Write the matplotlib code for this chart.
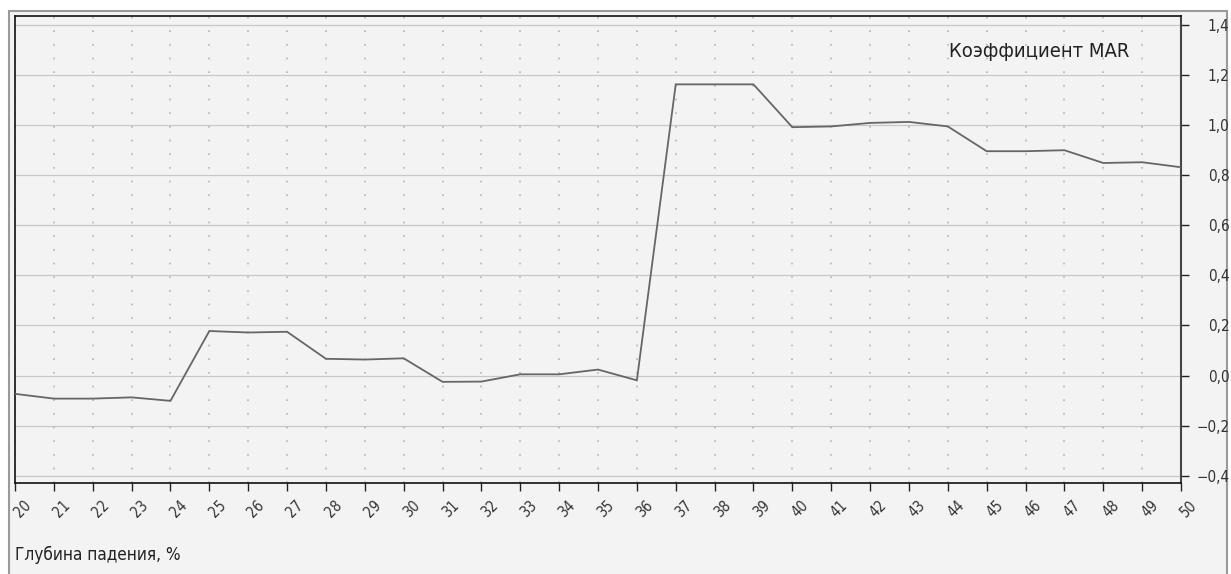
import matplotlib
matplotlib.use("Agg")
import matplotlib.pyplot as plt
from matplotlib.ticker import FuncFormatter
from matplotlib.patches import Rectangle
from matplotlib.transforms import ScaledTranslation

plt.rcParams['font.family'] = ['DejaVu Sans']
plt.rcParams['font.stretch'] = 'condensed'

depth = list(range(20, 51))
mar = [-0.073, -0.092, -0.092, -0.087, -0.101, 0.178, 0.172, 0.175, 0.067, 0.064,
       0.069, -0.025, -0.024, 0.005, 0.005, 0.024, -0.019, 1.163, 1.163, 1.163,
       0.992, 0.995, 1.009, 1.013, 0.995, 0.896, 0.896, 0.900, 0.849, 0.852, 0.832]
y_ticks = [-0.4, -0.2, 0.0, 0.2, 0.4, 0.6, 0.8, 1.0, 1.2, 1.4]
title = "Коэффициент MAR"
xlabel = "Глубина падения, %"

W, H = 1231, 574
fig = plt.figure(figsize=(W / 100, H / 100), dpi=100)
fig.patch.set_facecolor('white')

bg = '#f3f3f3'
# outer frame
frame = Rectangle((9 / W, -0.01), (1227 - 9) / W, (H - 11) / H + 0.01,
                  transform=fig.transFigure, facecolor=bg,
                  edgecolor='#9a9a9a', lw=1.5, zorder=-5)
fig.patches.append(frame)

ax = fig.add_axes([15 / W, (H - 483) / H, (1181 - 15) / W, (483 - 16) / H])
ax.set_zorder(5)
ax.set_facecolor(bg)

ax.set_xlim(20, 50)
ax.set_ylim(-0.429, 1.436)

ax.plot(depth, mar, color='#666666', lw=1.3, zorder=3, solid_joinstyle='miter')

# grid
for yv in y_ticks:
    ax.axhline(yv, color='#c8c8c8', lw=0.9, zorder=1)
for xv in depth:
    ax.axvline(xv, color='#b5b5b5', lw=1.2, dashes=(1.0, 7.2), zorder=1)

ax.set_xticks(depth)
ax.set_xticklabels([str(d) for d in depth], rotation=45, ha='center', va='top')
ax.tick_params(axis='x', direction='out', length=5.5, width=1, color='#222222',
               labelsize=10.5, labelcolor='#333333', pad=5)
shift = ScaledTranslation(8 / 100, 0, fig.dpi_scale_trans)
for lbl in ax.get_xticklabels():
    lbl.set_transform(lbl.get_transform() + shift)

ax.yaxis.tick_right()
ax.set_yticks(y_ticks)
ax.yaxis.set_major_formatter(FuncFormatter(
    lambda v, p: ('\u2212' if v < -1e-9 else '') + f"{abs(v):.1f}".replace('.', ',')))
ax.tick_params(axis='y', direction='out', length=6, width=1, color='#222222',
               labelsize=11, labelcolor='#333333', pad=29)
for lbl in ax.get_yticklabels():
    lbl.set_ha('right')

for s in ['left', 'top', 'bottom']:
    ax.spines[s].set_color('#111111')
    ax.spines[s].set_linewidth(1.2)
ax.spines['right'].set_color('#444444')
ax.spines['right'].set_linewidth(1.5)

ax.text(0.956, 0.925, title, transform=ax.transAxes, ha='right', va='center',
        fontsize=14.5, color='#222222')
fig.text(15 / W, 1 - 555 / H, xlabel, ha='left', va='center', fontsize=12.3,
         color='#222222')

fig.savefig('out.png', dpi=100, facecolor=fig.get_facecolor())
